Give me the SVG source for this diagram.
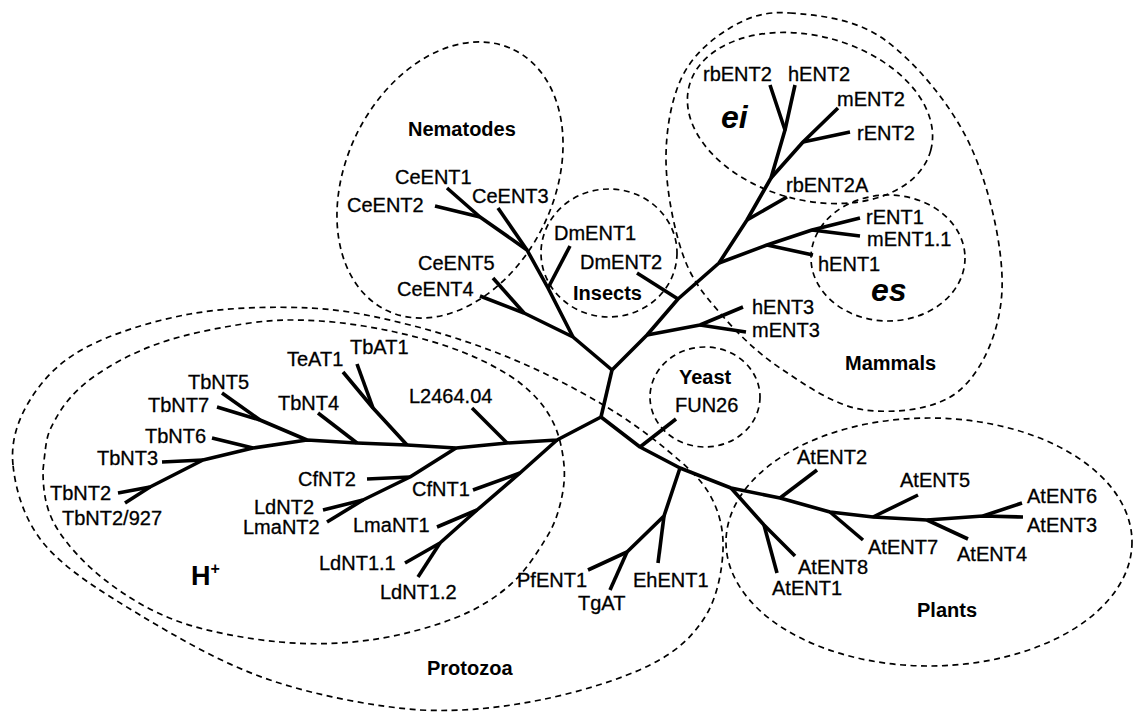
<svg xmlns="http://www.w3.org/2000/svg" width="1133" height="713" viewBox="0 0 1133 713">
  <style>
    .bg { fill: #ffffff; }
    .grp { fill: none; stroke: #000; stroke-width: 1.7; stroke-dasharray: 6 4.5; }
    .br { fill: none; stroke: #000; stroke-width: 3.6; stroke-linejoin: round; stroke-linecap: butt; }
    .lbl { font-family: "Liberation Sans", Arial, sans-serif; font-size: 20px; fill: #000; stroke: #000; stroke-width: 0.3; }
    .clade { font-family: "Liberation Sans", Arial, sans-serif; font-size: 20px; font-weight: bold; fill: #000; }
    .mode { font-family: "Liberation Sans", Arial, sans-serif; font-size: 32px; font-weight: bold; font-style: italic; fill: #000; }
  </style>
  <rect class="bg" x="0" y="0" width="1133" height="713"/>

  <!-- clade outlines -->
  <g id="protozoa">
    <path class="grp" d="M13,465 C10.5,440.8 18,419.5 30,400 C42,380.5 58.3,362.3 85,348 C111.7,333.7 152.5,320.7 190,314 C227.5,307.3 273.3,306.2 310,308 C346.7,309.8 376.7,316.7 410,325 C443.3,333.3 478.3,345 510,358 C541.7,371 573.8,387.7 600,403 C626.2,418.3 648.7,434.7 667,450 C685.3,465.3 700.7,478.3 710,495 C719.3,511.7 723.8,529.7 723,550 C722.2,570.3 717.2,597.8 705,617 C692.8,636.2 677.5,651.2 650,665 C622.5,678.8 578.3,692.5 540,700 C501.7,707.5 465,712 420,710 C375,706.7 316.7,695.8 270,680 C223.3,664.2 177.5,637.5 140,615 C102.5,592.5 66.2,570 45,545 C23.8,520 15.5,489.2 13,465 Z"/>
    <text class="clade" x="427" y="675">Protozoa</text>
  </g>
  <g id="proton-coupled">
    <path class="grp" d="M43,470 C46.8,435.3 46.8,435.3 55,420 C63.2,404.7 74.5,390.8 92,378 C109.5,365.2 133.7,352.2 160,343 C186.3,333.8 223.3,326.7 250,323 C276.7,319.3 295.8,319.5 320,321 C344.2,322.5 370.8,326.7 395,332 C419.2,337.3 444.2,344.5 465,353 C485.8,361.5 505.5,371.8 520,383 C534.5,394.2 544.7,406.3 552,420 C559.3,433.7 562.7,450.8 564,465 C565.3,479.2 563.2,492.5 560,505 C556.8,517.5 553.3,526.7 545,540 C536.7,553.3 525,572 510,585 C495,598 478.3,608.8 455,618 C431.7,627.2 399.2,636 370,640 C340.8,644 311.7,645 280,642 C248.3,639 209.2,632.3 180,622 C150.8,611.7 125.8,596.2 105,580 C84.2,563.8 65.3,543.3 55,525 C44.7,506.7 43,487.5 43,470 Z"/>
    <text class="clade" x="191" y="585" style="font-size:27px">H<tspan style="font-size:16px" dy="-11">+</tspan></text>
  </g>
  <g id="nematodes">
    <ellipse class="grp" cx="0" cy="0" rx="145" ry="104" transform="translate(450,180) rotate(-64)"/>
    <text class="clade" x="408" y="136">Nematodes</text>
  </g>
  <g id="insects">
    <ellipse class="grp" cx="609" cy="253" rx="68" ry="64"/>
    <text class="clade" x="573" y="300">Insects</text>
  </g>
  <g id="mammals">
    <path class="grp" d="M790,13 C815.8,15 855,18 885,40 C915,62 950.5,103.3 970,145 C989.5,186.7 1003.7,249.2 1002,290 C1000.3,330.8 982.8,370 960,390 C937.2,410 895,413.7 865,410 C835,406.3 804.2,384.2 780,368 C755.8,351.8 736.2,331.8 720,313 C703.8,294.2 692,280.5 683,255 C674,229.5 666.2,189.7 666,160 C665.8,130.3 671.3,99 682,77 C692.7,55 712,38.7 730,28 C748,17.3 764.2,11 790,13 Z"/>
    <text class="clade" x="845" y="370">Mammals</text>
  </g>
  <g id="ei-type">
    <ellipse class="grp" cx="0" cy="0" rx="125" ry="82" transform="translate(810,118) rotate(15)"/>
    <text class="mode" x="721" y="128">ei</text>
  </g>
  <g id="es-type">
    <ellipse class="grp" cx="888" cy="258" rx="77" ry="63"/>
    <text class="mode" x="871" y="301">es</text>
  </g>
  <g id="yeast">
    <ellipse class="grp" cx="705" cy="397" rx="55" ry="50"/>
    <text class="clade" x="679" y="384">Yeast</text>
  </g>
  <g id="plants">
    <ellipse class="grp" cx="929" cy="542" rx="203" ry="124"/>
    <text class="clade" x="917" y="617">Plants</text>
  </g>

  <!-- branches of the tree -->
  <g id="connectors">
    <path class="br" d="M612,370 L601,417"/>
    <!-- nematodes and insects -->
    <path class="br" d="M612,370 L573,337 L524,313 L480,296"/>
    <path class="br" d="M524,313 L493,278"/>
    <path class="br" d="M573,337 L548,288 L527,250 L480,217 L447,188"/>
    <path class="br" d="M548,288 L570,246"/>
    <path class="br" d="M527,250 L498,208"/>
    <path class="br" d="M480,217 L435,206"/>
    <!-- mammals -->
    <path class="br" d="M612,370 L647,335 L678,299 L719,263 L747,220 L771,178 L785,130 L770,85"/>
    <path class="br" d="M785,130 L795,85"/>
    <path class="br" d="M771,178 L803,142 L838,108"/>
    <path class="br" d="M803,142 L850,132"/>
    <path class="br" d="M747,220 L787,197"/>
    <path class="br" d="M719,263 L767,245 L812,230 L860,218"/>
    <path class="br" d="M812,230 L860,236"/>
    <path class="br" d="M767,245 L813,255"/>
    <path class="br" d="M678,299 L637,273"/>
    <path class="br" d="M647,335 L700,325 L743,307"/>
    <path class="br" d="M700,325 L746,332"/>
    <!-- protozoa -->
    <path class="br" d="M601,417 L557,440 L507,443 L456,448 L407,445 L357,443 L307,440 L253,448 L203,460 L150,487 L118,493"/>
    <path class="br" d="M150,487 L125,503"/>
    <path class="br" d="M203,460 L162,462"/>
    <path class="br" d="M253,448 L212,438"/>
    <path class="br" d="M307,440 L260,420 L217,407"/>
    <path class="br" d="M260,420 L222,393"/>
    <path class="br" d="M357,443 L318,413"/>
    <path class="br" d="M407,445 L373,408 L343,372"/>
    <path class="br" d="M373,408 L357,364"/>
    <path class="br" d="M507,443 L472,408"/>
    <path class="br" d="M456,448 L410,477 L363,500 L323,510"/>
    <path class="br" d="M410,477 L367,479"/>
    <path class="br" d="M363,500 L327,522"/>
    <path class="br" d="M557,440 L520,473 L477,510 L440,543 L405,563"/>
    <path class="br" d="M520,473 L473,490"/>
    <path class="br" d="M477,510 L437,527"/>
    <path class="br" d="M440,543 L418,577"/>
    <!-- yeast, apicomplexa and plants -->
    <path class="br" d="M601,417 L640,447 L680,468 L731,488 L780,498 L830,512 L873,517 L927,520 L983,516 L1023,517"/>
    <path class="br" d="M640,447 L676,419"/>
    <path class="br" d="M680,468 L664,516 L627,552 L588,570"/>
    <path class="br" d="M627,552 L610,590"/>
    <path class="br" d="M664,516 L658,563"/>
    <path class="br" d="M780,498 L817,470"/>
    <path class="br" d="M830,512 L863,540"/>
    <path class="br" d="M873,517 L918,495"/>
    <path class="br" d="M927,520 L968,539"/>
    <path class="br" d="M983,516 L1022,503"/>
    <path class="br" d="M731,488 L764,525 L795,556"/>
    <path class="br" d="M764,525 L777,573"/>
  </g>

  <!-- leaf labels -->
  <g id="CeENT1"><text class="lbl" x="395" y="184">CeENT1</text></g>
  <g id="CeENT2"><text class="lbl" x="347" y="212">CeENT2</text></g>
  <g id="CeENT3"><text class="lbl" x="472" y="203">CeENT3</text></g>
  <g id="CeENT5"><text class="lbl" x="418" y="270">CeENT5</text></g>
  <g id="CeENT4"><text class="lbl" x="397" y="296">CeENT4</text></g>
  <g id="DmENT1"><text class="lbl" x="554" y="240">DmENT1</text></g>
  <g id="DmENT2"><text class="lbl" x="580" y="269">DmENT2</text></g>
  <g id="rbENT2"><text class="lbl" x="703" y="81">rbENT2</text></g>
  <g id="hENT2"><text class="lbl" x="788" y="81">hENT2</text></g>
  <g id="mENT2"><text class="lbl" x="837" y="106">mENT2</text></g>
  <g id="rENT2"><text class="lbl" x="857" y="140">rENT2</text></g>
  <g id="rbENT2A"><text class="lbl" x="786" y="192">rbENT2A</text></g>
  <g id="rENT1"><text class="lbl" x="866" y="224">rENT1</text></g>
  <g id="mENT1.1"><text class="lbl" x="867" y="246">mENT1.1</text></g>
  <g id="hENT1"><text class="lbl" x="818" y="271">hENT1</text></g>
  <g id="hENT3"><text class="lbl" x="752" y="314">hENT3</text></g>
  <g id="mENT3"><text class="lbl" x="752" y="337">mENT3</text></g>
  <g id="FUN26"><text class="lbl" x="675" y="412">FUN26</text></g>
  <g id="TeAT1"><text class="lbl" x="287" y="366">TeAT1</text></g>
  <g id="TbAT1"><text class="lbl" x="350" y="354">TbAT1</text></g>
  <g id="TbNT5"><text class="lbl" x="188" y="389">TbNT5</text></g>
  <g id="TbNT7"><text class="lbl" x="148" y="412">TbNT7</text></g>
  <g id="TbNT4"><text class="lbl" x="278" y="410">TbNT4</text></g>
  <g id="L2464.04"><text class="lbl" x="409" y="403">L2464.04</text></g>
  <g id="TbNT6"><text class="lbl" x="145" y="443">TbNT6</text></g>
  <g id="TbNT3"><text class="lbl" x="97" y="465">TbNT3</text></g>
  <g id="TbNT2"><text class="lbl" x="50" y="500">TbNT2</text></g>
  <g id="TbNT2-927"><text class="lbl" x="62" y="525">TbNT2/927</text></g>
  <g id="CfNT2"><text class="lbl" x="298" y="486">CfNT2</text></g>
  <g id="CfNT1"><text class="lbl" x="412" y="496">CfNT1</text></g>
  <g id="LdNT2"><text class="lbl" x="254" y="514">LdNT2</text></g>
  <g id="LmaNT2"><text class="lbl" x="243" y="534">LmaNT2</text></g>
  <g id="LmaNT1"><text class="lbl" x="353" y="532">LmaNT1</text></g>
  <g id="LdNT1.1"><text class="lbl" x="319" y="570">LdNT1.1</text></g>
  <g id="LdNT1.2"><text class="lbl" x="380" y="599">LdNT1.2</text></g>
  <g id="PfENT1"><text class="lbl" x="517" y="587">PfENT1</text></g>
  <g id="TgAT"><text class="lbl" x="578" y="610">TgAT</text></g>
  <g id="EhENT1"><text class="lbl" x="633" y="587">EhENT1</text></g>
  <g id="AtENT2"><text class="lbl" x="797" y="464">AtENT2</text></g>
  <g id="AtENT5"><text class="lbl" x="900" y="487">AtENT5</text></g>
  <g id="AtENT6"><text class="lbl" x="1027" y="503">AtENT6</text></g>
  <g id="AtENT3"><text class="lbl" x="1027" y="532">AtENT3</text></g>
  <g id="AtENT7"><text class="lbl" x="868" y="554">AtENT7</text></g>
  <g id="AtENT4"><text class="lbl" x="957" y="561">AtENT4</text></g>
  <g id="AtENT8"><text class="lbl" x="798" y="574">AtENT8</text></g>
  <g id="AtENT1"><text class="lbl" x="772" y="595">AtENT1</text></g>
</svg>
